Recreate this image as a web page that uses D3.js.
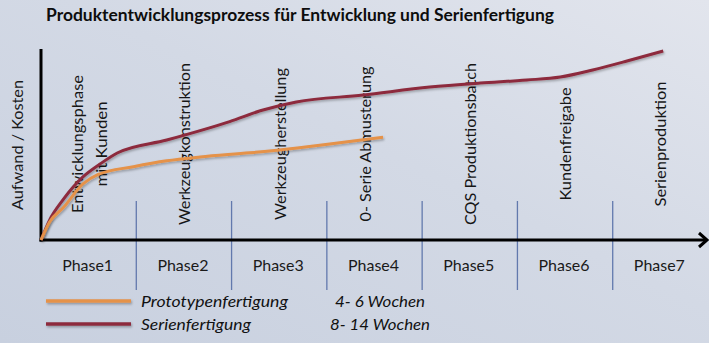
<!DOCTYPE html>
<html><head><meta charset="utf-8">
<script src="https://cdn.jsdelivr.net/npm/d3@7"></script>
<style>html,body{margin:0;padding:0;overflow:hidden;}</style>
</head><body>
<svg id="chart" width="709" height="343"></svg>
<script>
const title = "Produktentwicklungsprozess für Entwicklung und Serienfertigung";
const yAxisLabel = "Aufwand / Kosten";
const phases = ["Phase1","Phase2","Phase3","Phase4","Phase5","Phase6","Phase7"];
const stepLabels = [["Entwicklungsphase","mit Kunden"],["Werkzeugkonstruktion"],["Werkzeugherstellung"],["0- Serie Abmusterung"],["CQS Produktionsbatch"],["Kundenfreigabe"],["Serienproduktion"]];
const seriesNames = ["Prototypenfertigung","Serienfertigung"];
const seriesDurations = ["4- 6 Wochen","8- 14 Wochen"];
// x in phase units (0..7), y in effort units (0..100)
const protoX = [0,0.09,0.23,0.44,0.6,0.97,1.32,1.67,2.19,2.69,3.03,3.59];
const protoY = [0,9.5,16.8,29.5,34.5,38.6,41.7,43.7,45.9,48.4,50.5,54.1];
const serieX = [0,0.09,0.23,0.44,0.62,0.80,1.32,1.98,2.33,2.68,3.38,4.08,4.61,5.10,5.45,5.79,6.15,6.53];
const serieY = [0,10.5,21.1,33.2,40.0,45.8,52.6,62.3,68.4,72.6,76.3,80.5,82.6,84.2,85.8,89.5,94.2,99.5];

const svg = d3.select("#chart");
const W = 709, H = 343;
const defs = svg.append("defs");
const grad = defs.append("linearGradient").attr("id","bg").attr("x1","0").attr("y1","1").attr("x2","1").attr("y2","0");
grad.append("stop").attr("offset","0").attr("stop-color","#c8d0df");
grad.append("stop").attr("offset","0.55").attr("stop-color","#d3d9e5");
grad.append("stop").attr("offset","1").attr("stop-color","#e2e5ed");
const sh = defs.append("filter").attr("id","sh").attr("filterUnits","userSpaceOnUse")
  .attr("x",0).attr("y",0).attr("width",W).attr("height",H);
sh.append("feDropShadow").attr("dx",1).attr("dy",1.5).attr("stdDeviation",1).attr("flood-color","#000").attr("flood-opacity",0.3);
svg.append("rect").attr("width",W).attr("height",H).attr("fill","url(#bg)");

const x = d3.scaleLinear().domain([0,7]).range([41,708]);
const y = d3.scaleLinear().domain([0,100]).range([240,50]);
const font = "Lato, 'Open Sans', sans-serif";

function fit(sel, target){
  sel.attr("textLength", target).attr("lengthAdjust","spacingAndGlyphs");
}

// title
svg.append("text").attr("x",46).attr("y",21).attr("font-family",font).attr("font-weight","bold")
  .attr("font-size",16.5).attr("fill","#0d0d0d").text(title).call(fit,508);

// y label
svg.append("text").attr("transform","translate(23,145) rotate(-90)").attr("text-anchor","middle")
  .attr("font-family",font).attr("font-size",16).attr("fill","#1a1a1a").text(yAxisLabel).call(fit,130);

// dividers
svg.append("g").selectAll("line").data(d3.range(1,7)).join("line")
  .attr("x1",d=>x(d)).attr("x2",d=>x(d)).attr("y1",201).attr("y2",290)
  .attr("stroke","#6279ad").attr("stroke-width",1.3);

// step labels (rotated)
const stepLens = [[138,85],[162],[152],[155],[162],[113],[125]];
const stepDx = [0,0,1,-10,0,0,0];
stepLabels.forEach((lines,i)=>{
  const cx = x(i+0.5)+stepDx[i];
  lines.forEach((t,j)=>{
    const off = (j-(lines.length-1)/2)*24;
    svg.append("text").attr("transform",`translate(${cx+off+6},144) rotate(-90)`)
      .attr("text-anchor","middle").attr("font-family",font).attr("font-size",16).attr("fill","#161616")
      .text(t).call(fit,stepLens[i][j]);
  });
});

// phase labels
svg.append("g").selectAll("text").data(phases).join("text")
  .attr("x",(d,i)=>x(i+0.5)-1).attr("y",270.5).attr("text-anchor","middle")
  .attr("font-family",font).attr("font-size",16).attr("fill","#1a1a1a").text(d=>d).call(fit,51);

// axes
svg.append("line").attr("x1",x(0)).attr("x2",x(0)).attr("y1",49).attr("y2",y(0)+1.5).attr("stroke","#000").attr("stroke-width",3);
svg.append("line").attr("x1",x(0)-1.5).attr("x2",x(7)-2).attr("y1",y(0)).attr("y2",y(0)).attr("stroke","#000").attr("stroke-width",3);
svg.append("path").attr("d",`M${x(7)-9},${y(0)-7} L${x(7)-1},${y(0)} L${x(7)-9},${y(0)+7}`)
  .attr("fill","none").attr("stroke","#000").attr("stroke-width",3);

// curves
const line = d3.line().x(d=>x(d[0])).y(d=>y(d[1])).curve(d3.curveMonotoneX);
const colors = ["#e5924a","#8d2b3d"];
const data = [d3.zip(protoX,protoY), d3.zip(serieX,serieY)];
svg.append("path").datum(data[1]).attr("d",line).attr("fill","none").attr("stroke",colors[1]).attr("stroke-width",3).attr("filter","url(#sh)");
svg.append("path").datum(data[0]).attr("d",line).attr("fill","none").attr("stroke",colors[0]).attr("stroke-width",3).attr("filter","url(#sh)");

// legend
const legY = [301,324];
const legW = [147,110];
const durW = [90,100];
const durX = [335,330];
seriesNames.forEach((n,i)=>{
  svg.append("line").attr("x1",46).attr("x2",131).attr("y1",legY[i]).attr("y2",legY[i])
    .attr("stroke",colors[i]).attr("stroke-width",3.5).attr("filter","url(#sh)");
  svg.append("text").attr("x",141).attr("y",legY[i]+5.5).attr("font-family",font).attr("font-style","italic")
    .attr("font-size",16).attr("fill","#111").text(n).call(fit,legW[i]);
  svg.append("text").attr("x",durX[i]).attr("y",legY[i]+5.5).attr("font-family",font).attr("font-style","italic")
    .attr("font-size",16).attr("fill","#111").text(seriesDurations[i]).call(fit,durW[i]);
});
</script>
</body></html>
